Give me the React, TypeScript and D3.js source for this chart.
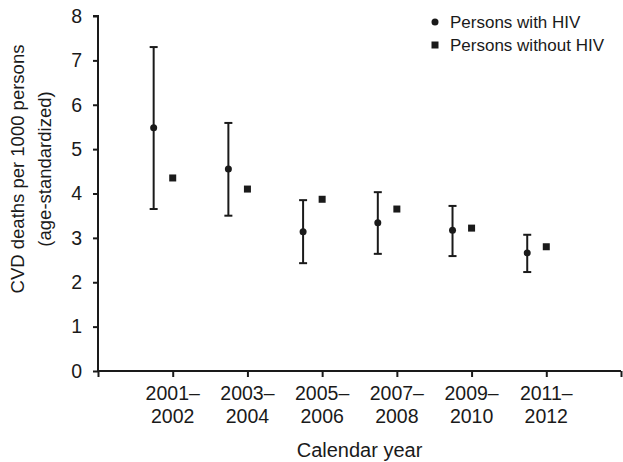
import React, { useEffect, useRef } from 'react';
import * as d3 from 'd3';

const periods = [
  ['2001–', '2002'],
  ['2003–', '2004'],
  ['2005–', '2006'],
  ['2007–', '2008'],
  ['2009–', '2010'],
  ['2011–', '2012'],
];
const hivRate = [5.48, 4.55, 3.14, 3.34, 3.17, 2.66];
const hivLower = [3.65, 3.5, 2.43, 2.64, 2.59, 2.23];
const hivUpper = [7.3, 5.59, 3.85, 4.03, 3.72, 3.07];
const noHivRate = [4.35, 4.1, 3.87, 3.65, 3.22, 2.8];
const yTicks = [0, 1, 2, 3, 4, 5, 6, 7, 8];
const legendLabels = ['Persons with HIV', 'Persons without HIV'];

const W = 623;
const H = 462;
const FONT = 'Liberation Sans, Arial, sans-serif';
const INK = '#1a1a1a';

export default function App() {
  const ref = useRef<SVGSVGElement>(null);

  useEffect(() => {
    const svg = d3.select(ref.current).html(null);
    const left = 98;
    const right = 621;
    const top = 16;
    const bottom = 371;

    const x = d3.scaleLinear().domain([0, periods.length + 1]).range([left, right]);
    const y = d3.scaleLinear().domain([0, 8]).range([bottom, top]);
    const offset = (x(1) - x(0)) * 0.255;

    // y axis
    const gy = svg.append('g').attr('transform', `translate(${left},0)`)
      .call(d3.axisLeft(y).tickValues(yTicks).tickSize(5).tickPadding(11).tickFormat(d3.format('d')));
    gy.select('.domain').attr('stroke', INK).attr('stroke-width', 2).attr('d', `M-5,${top}H0V${bottom}`);
    gy.selectAll('.tick line').attr('stroke', INK).attr('stroke-width', 2);
    gy.selectAll('.tick text').attr('font-size', 19.5).attr('font-family', FONT).attr('fill', INK);

    // x axis
    const idx = d3.range(0, periods.length + 2);
    const gx = svg.append('g').attr('transform', `translate(0,${bottom})`)
      .call(d3.axisBottom(x).tickValues(idx).tickSize(6).tickFormat(() => ''));
    gx.select('.domain').attr('stroke', INK).attr('stroke-width', 2).attr('d', `M${left},0H${right}`);
    gx.selectAll('.tick line').attr('stroke', INK).attr('stroke-width', 2);

    const labels = svg.append('g').attr('font-family', FONT).attr('font-size', 19.5).attr('fill', INK)
      .attr('text-anchor', 'middle');
    periods.forEach((p, i) => {
      const t = labels.append('text').attr('x', x(i + 1)).attr('y', bottom + 29);
      t.append('tspan').attr('x', x(i + 1)).text(p[0]);
      t.append('tspan').attr('x', x(i + 1)).attr('dy', 23).text(p[1]);
    });

    svg.append('text').attr('x', (left + right) / 2).attr('y', 457)
      .attr('text-anchor', 'middle').attr('font-family', FONT).attr('font-size', 20).attr('fill', INK)
      .text('Calendar year');

    const yl = svg.append('text').attr('transform', `translate(24,169) rotate(-90)`)
      .attr('text-anchor', 'middle').attr('font-family', FONT).attr('font-size', 18.5).attr('fill', INK);
    yl.append('tspan').attr('x', 0).text('CVD deaths per 1000 persons');
    yl.append('tspan').attr('x', 0).attr('dy', 27).text('(age-standardized)');

    // error bars
    const cap = 4;
    const eb = svg.append('g').attr('stroke', INK).attr('stroke-width', 2);
    hivRate.forEach((v, i) => {
      const cx = x(i + 1) - offset;
      eb.append('line').attr('x1', cx).attr('x2', cx).attr('y1', y(hivLower[i])).attr('y2', y(hivUpper[i]));
      eb.append('line').attr('x1', cx - cap).attr('x2', cx + cap).attr('y1', y(hivLower[i])).attr('y2', y(hivLower[i]));
      eb.append('line').attr('x1', cx - cap).attr('x2', cx + cap).attr('y1', y(hivUpper[i])).attr('y2', y(hivUpper[i]));
    });

    svg.append('g').selectAll('circle').data(hivRate).join('circle')
      .attr('cx', (_, i) => x(i + 1) - offset).attr('cy', (d) => y(d)).attr('r', 3.5).attr('fill', INK);

    svg.append('g').selectAll('rect').data(noHivRate).join('rect')
      .attr('x', (_, i) => x(i + 1) - 3.5).attr('y', (d) => y(d) - 3.5)
      .attr('width', 7).attr('height', 7).attr('fill', INK);

    // legend
    const lg = svg.append('g').attr('font-family', FONT).attr('font-size', 17).attr('fill', INK);
    lg.append('circle').attr('cx', 435).attr('cy', 22).attr('r', 3.5).attr('fill', INK);
    lg.append('text').attr('x', 450).attr('y', 28).text(legendLabels[0]);
    lg.append('rect').attr('x', 431.5).attr('y', 41.5).attr('width', 7).attr('height', 7).attr('fill', INK);
    lg.append('text').attr('x', 450).attr('y', 51).text(legendLabels[1]);
  }, []);

  return (
    <svg ref={ref} width={W} height={H}
      style={{ position: 'absolute', left: 0, top: 0, background: '#fff' }} />
  );
}
